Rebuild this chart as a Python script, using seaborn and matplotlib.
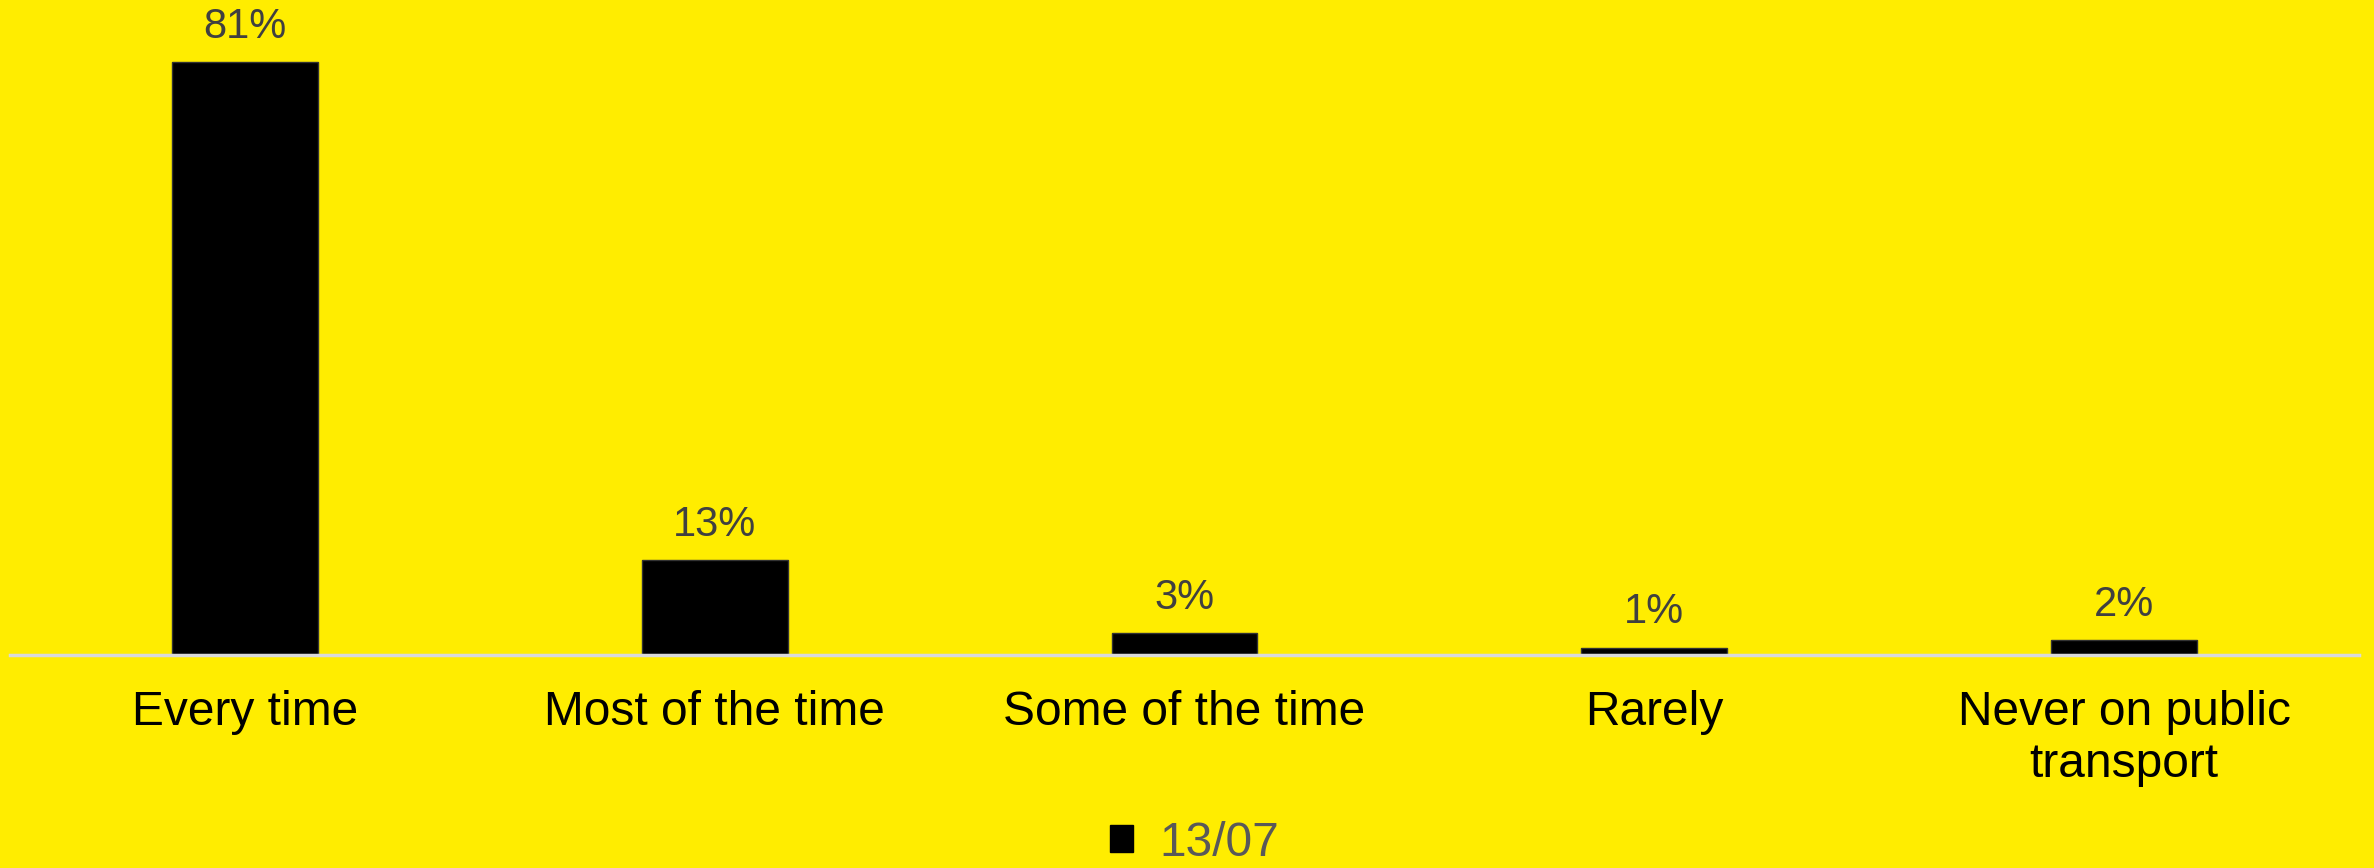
import pandas as pd
import seaborn as sns
import matplotlib.pyplot as plt
from matplotlib.patches import Patch

categories = ["Every time", "Most of the time", "Some of the time", "Rarely", "Never on public\ntransport"]
values = [81, 13, 3, 1, 2]
series_name = "13/07"

df = pd.DataFrame({"answer": categories, "share": values})

bg = "#FFED00"
sns.set_style("white")
plt.rcParams["font.family"] = ["Liberation Sans", "DejaVu Sans"]

fig = plt.figure(figsize=(23.74, 8.68), dpi=100, facecolor=bg)
ax = fig.add_axes([10 / 2374, 1 - 655 / 868, 2349 / 2374, 655 / 868])
ax.set_facecolor(bg)

sns.barplot(data=df, x="answer", y="share", color="black", width=0.31,
            edgecolor="#333333", linewidth=1, ax=ax)

ax.set_ylim(0, 89.5)
ax.set_xlim(-0.5, len(categories) - 0.5)
ax.set_xlabel("")
ax.set_ylabel("")
ax.set_yticks([])
for s in ["top", "left", "right"]:
    ax.spines[s].set_visible(False)
ax.spines["bottom"].set_color("#D9D9D9")
ax.spines["bottom"].set_linewidth(2.5)
ax.tick_params(axis="x", length=0, pad=25, labelsize=34.5, labelcolor="black")
for lbl in ax.get_xticklabels():
    lbl.set_linespacing(1.2)

for i, v in enumerate(values):
    ax.annotate(f"{v}%", (i, v), xytext=(0, 11), textcoords="offset points",
                ha="center", va="bottom", fontsize=30, color="#404040")

fig.legend(handles=[Patch(facecolor="black", edgecolor="black", label=series_name)],
           loc="center", bbox_to_anchor=(0.503, 1 - 843 / 868), frameon=False,
           fontsize=34.5, labelcolor="#595959", handlelength=0.48, handleheight=0.48,
           handletextpad=0.55)

fig.savefig("out.png", dpi=100, facecolor=bg)
